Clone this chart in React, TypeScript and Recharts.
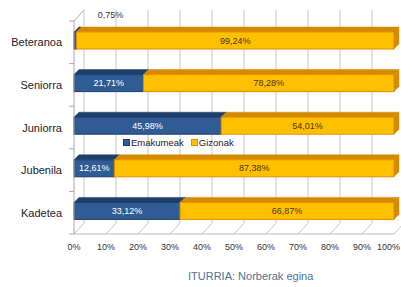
import React from 'react';
import { BarChart, Bar, XAxis, YAxis, CartesianGrid, LabelList, Legend } from 'recharts';

const categories = ['Beteranoa', 'Seniorra', 'Juniorra', 'Jubenila', 'Kadetea'];
const emakumeak = [0.75, 21.71, 45.98, 12.61, 33.12];
const gizonak = [99.24, 78.28, 54.01, 87.38, 66.87];
const xTicks = [0, 10, 20, 30, 40, 50, 60, 70, 80, 90, 100];
const seriesNames = ['Emakumeak', 'Gizonak'];
const sourceText = 'ITURRIA: Norberak egina';

const data = categories.map((c, i) => ({ name: c, emakumeak: emakumeak[i], gizonak: gizonak[i] }));

const BLUE = '#2f5c95';
const BLUE_TOP = '#1e3e6c';
const BLUE_STROKE = '#1f3d68';
const ORANGE = '#ffc000';
const ORANGE_TOP = '#d48a00';
const ORANGE_STROKE = '#e58c00';
const GRID = '#c6c6c6';
const DX = 10;
const DY = -11;
const BAND = 42.6;

const fmt = (v: number) => v.toFixed(2).replace('.', ',') + '%';

const make3D = (front: string, top: string, stroke: string) => (p: any) => {
  const { x, y, width, height } = p;
  if (!width || width <= 0) return <g />;
  const yy = y - 2;
  const d = 5;
  return (
    <g>
      <polygon
        points={`${x},${yy} ${x + d},${yy - d} ${x + width + d},${yy - d} ${x + width},${yy}`}
        fill={top}
        stroke={top}
        strokeWidth={0.5}
      />
      <polygon
        points={`${x + width},${yy} ${x + width + d},${yy - d} ${x + width + d},${yy + height - d} ${x + width},${yy + height}`}
        fill={top}
        stroke={top}
        strokeWidth={0.5}
      />
      <rect x={x} y={yy} width={width} height={height} fill={front} stroke={stroke} strokeWidth={1} />
    </g>
  );
};

const gridLine = (p: any) => {
  const { x1, y1, y2, index } = p;
  return (
    <g key={p.key ?? `g-${index}-${x1}`}>
      <line x1={x1} y1={y2} x2={x1 + DX} y2={y2 + DY} stroke={GRID} strokeWidth={1} />
      <line x1={x1 + DX} y1={y2 + DY} x2={x1 + DX} y2={y1 + DY} stroke={GRID} strokeWidth={1} />
      {Math.abs(x1 - 74) < 1 ? (
        <line x1={x1} y1={y1} x2={x1 + DX} y2={y1 + DY} stroke="#aaa" strokeWidth={1} />
      ) : null}
    </g>
  );
};

const XTick = (p: any) => {
  const { x, y, payload } = p;
  const last = payload.value === xTicks[xTicks.length - 1];
  return (
    <text
      x={last ? 400 : x}
      y={y + 16}
      textAnchor={last ? 'end' : 'middle'}
      fontSize={9}
      fill="#333"
    >
      {payload.value}%
    </text>
  );
};

const YTick = (p: any) => {
  const { x, y, payload, index } = p;
  return (
    <g>
      <text x={x - 12} y={y + 4} textAnchor="end" fontSize={11} fill="#222">
        {payload.value}
      </text>
      <line x1={x - 5} y1={y - BAND / 2} x2={x} y2={y - BAND / 2} stroke="#aaa" />
      {index === categories.length - 1 ? (
        <line x1={x - 5} y1={y + BAND / 2} x2={x} y2={y + BAND / 2} stroke="#aaa" />
      ) : null}
    </g>
  );
};

const makeLabel = (color: string, small: boolean) => (p: any) => {
  const { x, y, width, height, value } = p;
  if (value == null) return null;
  if (small && width < 20) {
    return (
      <text x={x + width + 34} y={y - 16} textAnchor="middle" fontSize={9} fill="#333">
        {fmt(value)}
      </text>
    );
  }
  return (
    <text x={x + width / 2} y={y - 2 + height / 2 + 3} textAnchor="middle" fontSize={9} fill={color}>
      {fmt(value)}
    </text>
  );
};

const LegendContent = () => {
  const cols = [
    [BLUE, BLUE_STROKE],
    [ORANGE, ORANGE_STROKE],
  ];
  return (
    <div style={{ display: 'flex', alignItems: 'center', fontSize: 9.5, color: '#222', whiteSpace: 'nowrap' }}>
      {seriesNames.map((n, i) => (
        <div key={n} style={{ display: 'flex', alignItems: 'center', marginRight: i === 0 ? 7 : 0 }}>
          <span
            style={{
              display: 'inline-block',
              width: 5,
              height: 5,
              background: cols[i][0],
              border: `1px solid ${cols[i][1]}`,
              marginRight: 1,
            }}
          />
          <span>{n}</span>
        </div>
      ))}
    </div>
  );
};

export default function App() {
  return (
    <div
      style={{
        position: 'absolute',
        left: 0,
        top: 0,
        width: 401,
        height: 287,
        background: '#fff',
        fontFamily: '"Liberation Sans", Arial, sans-serif',
      }}
    >
      <BarChart
        width={401}
        height={287}
        data={data}
        layout="vertical"
        margin={{ top: 21, right: 7, bottom: 33, left: 10 }}
        barCategoryGap={0}
        style={{ fontFamily: '"Liberation Sans", Arial, sans-serif' }}
      >
        <CartesianGrid horizontal={false} vertical={gridLine} />
        <XAxis
          type="number"
          domain={[0, 100]}
          ticks={xTicks}
          height={20}
          tickSize={0}
          tickMargin={0}
          tickLine={false}
          axisLine={{ stroke: '#bbb' }}
          tick={XTick}
          interval={0}
        />
        <YAxis
          type="category"
          dataKey="name"
          width={64}
          tickSize={0}
          tickMargin={0}
          tickLine={false}
          axisLine={{ stroke: '#aaa' }}
          tick={YTick}
          interval={0}
        />
        <Legend
          layout="horizontal"
          verticalAlign="middle"
          align="center"
          content={LegendContent}
          wrapperStyle={{ position: 'absolute', left: 123, top: 137, width: 120, height: 12 }}
        />
        <Bar
          dataKey="emakumeak"
          name={seriesNames[0]}
          stackId="a"
          barSize={17}
          fill={BLUE}
          shape={make3D(BLUE, BLUE_TOP, BLUE_STROKE)}
          isAnimationActive={false}
        >
          <LabelList dataKey="emakumeak" content={makeLabel('#ffffff', true)} />
        </Bar>
        <Bar
          dataKey="gizonak"
          name={seriesNames[1]}
          stackId="a"
          barSize={17}
          fill={ORANGE}
          shape={make3D(ORANGE, ORANGE_TOP, ORANGE_STROKE)}
          isAnimationActive={false}
        >
          <LabelList dataKey="gizonak" content={makeLabel('#4a3300', false)} />
        </Bar>
      </BarChart>
      <div
        style={{
          position: 'absolute',
          left: 188,
          top: 270,
          fontSize: 11,
          color: '#50709a',
          whiteSpace: 'nowrap',
          lineHeight: '13px',
        }}
      >
        {sourceText}
      </div>
    </div>
  );
}
